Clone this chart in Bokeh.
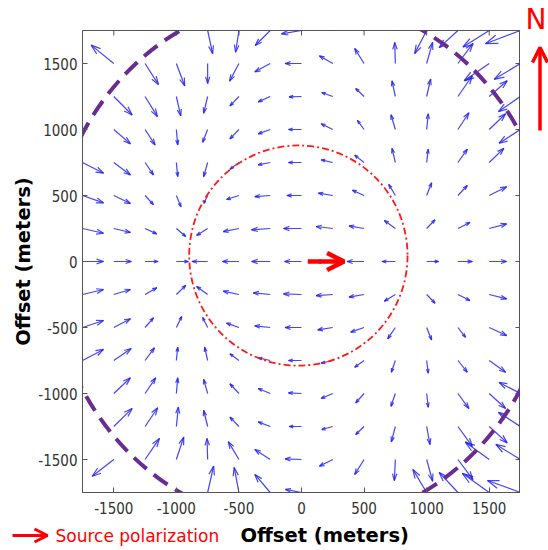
import numpy as np
from bokeh.plotting import figure
from bokeh.layouts import column, row
from bokeh.models import Range1d, FixedTicker, Label, Arrow, OpenHead
from bokeh.embed import file_html
from bokeh.resources import INLINE

# ---------------- data ----------------
grid_x = [-1750, -1500, -1250, -1000, -750, -500, -250, 0, 250, 500, 750, 1000, 1250, 1500, 1750]
grid_y = [1750, 1500, 1250, 1000, 750, 500, 250, 0, -250, -500, -750, -1000, -1250, -1500, -1750]

# u (east) components, one list per row (top row first)
u_rows = [
    [-150, -150, -150, -120, 40, -27, -120, -160, -100, -60, 0, -96, -150, -210, -280],
    [-150, -181, 107, 67, 0, -75, -123, -131, -107, -75, -5, 48, 120, -200, -210],
    [-150, 147, 99, 35, -32, -72, -96, -99, -88, -67, -27, 32, 115, 144, -176],
    [-150, 133, 80, 11, -40, -72, -96, -104, -93, -53, -35, 13, 88, 131, -171],
    [168, 133, 67, 11, -32, -72, -96, -104, -93, -75, -27, 13, 75, 117, 120],
    [168, 133, 67, 37, -30, -99, -123, -117, -115, -93, -53, 40, 75, 139, 150],
    [168, 133, 93, 75, -88, -125, -149, -144, -133, -120, -88, 67, 96, 139, 160],
    [168, 141, 104, 96, -125, -133, -149, -136, -140, -136, -107, 96, 115, 139, 160],
    [168, 133, 93, 75, -88, -125, -136, -144, -133, -120, -88, 67, 96, 139, 160],
    [168, 133, 67, 43, -40, -99, -123, -131, -120, -107, -61, 40, 61, 139, 150],
    [168, 139, 75, 11, -24, -72, -96, -104, -93, -75, -32, 13, 75, 131, 120],
    [-150, 133, 85, 11, -32, -72, -96, -104, -93, -67, -35, 13, 88, 131, -171],
    [-150, 147, 101, 16, -32, -72, -96, -99, -88, -67, -32, 27, 115, 144, -176],
    [-150, -173, 115, 59, -5, -85, -123, -131, -107, -75, -8, 48, 120, -190, -197],
    [-150, -150, -150, -120, 48, -38, -123, -128, -100, -60, 0, -110, -150, -215, -264],
]
# v (north) components
v_rows = [
    [120, 120, 120, 120, -175, -165, -114, -25, 120, 150, 160, -175, -130, -125, -100],
    [100, 139, -160, -170, -152, -134, -63, 0, 58, 114, 160, 160, 152, -130, -120],
    [80, -140, -152, -147, -127, -71, -41, -3, 30, 61, 119, 132, 157, 119, -114],
    [60, -109, -117, -117, -97, -71, -33, 0, 43, 69, 112, 119, 127, 119, -104],
    [-81, -94, -94, -107, -107, -51, -18, 0, 20, 56, 107, 101, 101, 107, 100],
    [-56, -61, -69, -86, -60, -30, -8, 0, 18, 40, 84, 96, 76, 66, 50],
    [-36, -30, -41, -61, -53, -23, -10, 0, 15, 20, 61, 66, 46, 35, 20],
    [0, 0, 0, 0, 0, 0, 0, 0, 0, 0, 0, 0, 0, 0, 0],
    [38, 38, 51, 69, 61, 25, 13, 5, -8, -20, -51, -66, -46, -33, -20],
    [53, 66, 73, 84, 76, 33, 13, 0, -18, -35, -86, -94, -74, -61, -50],
    [84, 91, 96, 101, 101, 51, 20, 0, -20, -51, -89, -96, -89, -89, -100],
    [-60, 119, 119, 119, 107, 74, 38, 5, -38, -71, -97, -104, -114, -114, 84],
    [-80, 137, 142, 147, 122, 71, 35, 0, -23, -61, -117, -137, -150, -124, 107],
    [-100, -127, 160, 170, 160, 135, 76, 5, -51, -114, -160, -165, -152, 130, 114],
    [-120, -120, -120, -120, 200, 190, 137, 23, -120, -150, -160, 175, 152, 145, 91],
]

x_ticks = [-1500, -1000, -500, 0, 500, 1000, 1500]
y_ticks = [-1500, -1000, -500, 0, 500, 1000, 1500]
tick_labels = {t: str(t) for t in x_ticks}   # plain hyphen minus, as in the original

survey_radius = 2000                 # purple dashed circle
inner_center = (-25, 45)             # red dash-dot ellipse
inner_size = (1745, 1668)
source_arrow = (50, 340)             # red arrow along y = 0

XMIN, XMAX, YMIN, YMAX = -1750, 1750, -1750, 1750
FW, FH = 438, 462
TOP, LEFT, BOTTOM, RIGHT_W, FOOT = 30, 82, 28, 28, 28
MAIN_H = TOP + FH + BOTTOM

# ---------------- build quiver paths ----------------
alpha, beta = 0.33, 0.33
xs, ys = [], []
for j, yv in enumerate(grid_y):
    for i, xv in enumerate(grid_x):
        u = u_rows[j][i]
        v = v_rows[j][i]
        tx, ty = xv + u, yv + v
        xs.append([xv, tx])
        ys.append([yv, ty])
        xs.append([tx - alpha * (u + beta * v), tx, tx - alpha * (u - beta * v)])
        ys.append([ty - alpha * (v - beta * u), ty, ty - alpha * (v + beta * u)])


def strip(w, h, xr, yr):
    f = figure(title=None, width=w, height=h, x_range=Range1d(*xr), y_range=Range1d(*yr),
               output_backend="svg", toolbar_location=None, x_axis_type=None, y_axis_type=None,
               min_border=0, min_border_left=0, min_border_right=0,
               min_border_top=0, min_border_bottom=0)
    f.outline_line_color = None
    f.xgrid.visible = False
    f.ygrid.visible = False
    f.background_fill_color = "white"
    f.border_fill_color = "white"
    return f


# ---- main plot ----
p = figure(title=None, frame_width=FW, frame_height=FH,
           x_range=Range1d(XMIN, XMAX), y_range=Range1d(YMIN, YMAX),
           output_backend="svg", toolbar_location=None,
           min_border_left=LEFT, min_border_right=0, min_border_top=TOP, min_border_bottom=BOTTOM)
p.xgrid.visible = False
p.ygrid.visible = False
p.outline_line_color = "#555555"
p.outline_line_width = 1
p.background_fill_color = "white"
p.border_fill_color = "white"

tick_font = "'Liberation Sans Narrow', 'DejaVu Sans Condensed', 'Liberation Sans', sans-serif"
for ax in (p.xaxis[0], p.yaxis[0]):
    ax.ticker = FixedTicker(ticks=x_ticks)
    ax.major_label_overrides = tick_labels
    ax.major_tick_in = 5
    ax.major_tick_out = 0
    ax.minor_tick_line_color = None
    ax.axis_line_color = "#555555"
    ax.major_tick_line_color = "#555555"
    ax.major_label_text_font = tick_font
    ax.major_label_text_font_size = "15px"
    ax.major_label_text_color = "#333333"
p.xaxis.major_label_standoff = 9
p.yaxis.major_label_standoff = 5
p.yaxis.axis_label = "Offset (meters)"
p.yaxis.axis_label_text_font = "DejaVu Sans"
p.yaxis.axis_label_text_font_style = "bold"
p.yaxis.axis_label_text_font_size = "19.5px"
p.yaxis.axis_label_text_color = "black"
p.yaxis.axis_label_standoff = 0

# inward ticks on the top and right edges of the box
tlx = 5 * (XMAX - XMIN) / FW
tly = 5 * (YMAX - YMIN) / FH
p.segment(x0=x_ticks, y0=[YMAX] * len(x_ticks), x1=x_ticks, y1=[YMAX - tly] * len(x_ticks),
          line_color="#555555", line_width=1)
p.segment(x0=[XMAX] * len(y_ticks), y0=y_ticks, x1=[XMAX - tlx] * len(y_ticks), y1=y_ticks,
          line_color="#555555", line_width=1)

# vector field
p.multi_line(xs, ys, line_color="#2525f0", line_width=1.2, line_alpha=0.85)

# circles
p.ellipse(x=[0], y=[0], width=[2 * survey_radius], height=[2 * survey_radius],
          fill_color=None, line_color="#6a2c91", line_width=4, line_dash="17 9")
p.ellipse(x=[inner_center[0]], y=[inner_center[1]], width=[inner_size[0]], height=[inner_size[1]],
          fill_color=None, line_color="#ff1a1a", line_width=1.8, line_dash="7 3 2 3")

# source polarization arrow in the plot
p.add_layout(Arrow(x_start=source_arrow[0], y_start=0, x_end=source_arrow[1], y_end=0,
                   line_color="#ff0000", line_width=4.5,
                   end=OpenHead(size=17, line_color="#ff0000", line_width=4.5)))

# ---- right column: "N" and north arrow (page-pixel coordinates, y measured upward) ----
pr = strip(RIGHT_W, MAIN_H, (0, RIGHT_W), (0, MAIN_H))
pr.add_layout(Label(x=5, y=MAIN_H - 19, text="N", text_font="DejaVu Sans", text_font_size="28px",
                    text_color="#ff0000", text_baseline="middle"))
pr.add_layout(Arrow(x_start=19.5, y_start=MAIN_H - 130, x_end=19.5, y_end=MAIN_H - 47,
                    line_color="#ff0000", line_width=3.5,
                    end=OpenHead(size=15, line_color="#ff0000", line_width=3.5)))

# ---- bottom strip: legend + x label ----
pb = strip(LEFT + FW + RIGHT_W, FOOT, (0, LEFT + FW + RIGHT_W), (0, FOOT))
pb.add_layout(Arrow(x_start=12, y_start=13, x_end=47, y_end=13,
                    line_color="#ff0000", line_width=3,
                    end=OpenHead(size=13, line_color="#ff0000", line_width=3)))
pb.add_layout(Label(x=55, y=13, text="Source polarization", text_font="DejaVu Sans",
                    text_font_size="17px", text_color="#ff0000", text_baseline="middle"))
pb.add_layout(Label(x=240, y=13, text="Offset (meters)", text_font="DejaVu Sans",
                    text_font_style="bold", text_font_size="19.5px", text_color="black",
                    text_baseline="middle"))

layout = column(row(column(p), pr, spacing=0), pb, spacing=0)
open("out.html", "w").write(file_html(layout, INLINE))
